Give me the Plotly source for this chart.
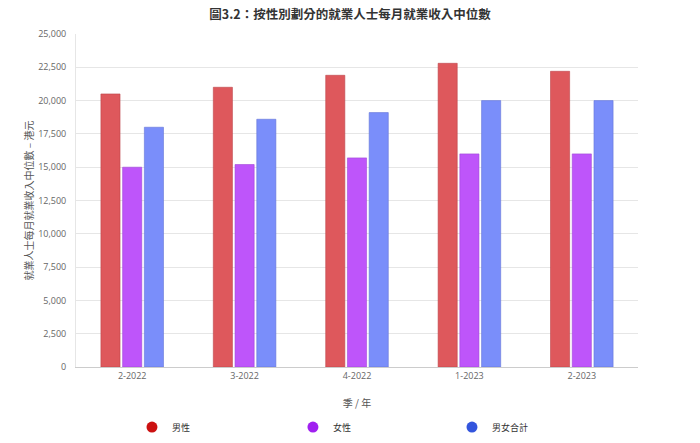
import plotly.graph_objects as go

categories = ["2-2022", "3-2022", "4-2022", "1-2023", "2-2023"]
male = [20500, 21000, 21900, 22800, 22200]
female = [15000, 15200, 15700, 16000, 16000]
total = [18000, 18600, 19100, 20000, 20000]
series_names = ["男性", "女性", "男女合計"]
bar_colors = ["rgba(222,88,92,1)", "rgba(190,85,250,1)", "rgba(122,142,250,1)"]
line_colors = ["rgba(190,70,75,1)", "rgba(160,70,215,1)", "rgba(100,118,215,1)"]
legend_colors = ["#cc1111", "#a020f0", "#3355dd"]
legend_ids = ["legend", "legend2", "legend3"]
legend_x = [0.0996, 0.386, 0.669]

FONT = "Open Sans, Noto Sans CJK TC, sans-serif"
CJK = "Noto Sans CJK TC, sans-serif"

fig = go.Figure()
for name, vals, c, lc in zip(series_names, [male, female, total], bar_colors, line_colors):
    fig.add_trace(go.Bar(x=categories, y=vals, name=name, marker=dict(color=c, line=dict(color=lc, width=0.6)),
                         showlegend=False))
for name, c, lid in zip(series_names, legend_colors, legend_ids):
    fig.add_trace(go.Scatter(x=[None], y=[None], mode="markers", name=name, legend=lid,
                             marker=dict(symbol="circle", size=11, color=c)))

legend_common = dict(orientation="h", yref="container", y=0.036, yanchor="middle", xanchor="left",
                     font=dict(family=CJK, size=9, color="#333333"), itemwidth=30)

fig.update_layout(
    width=700, height=443,
    margin=dict(l=76, r=62, t=34, b=76),
    paper_bgcolor="white", plot_bgcolor="white",
    font=dict(family=FONT, color="#666666", size=9),
    barmode="group", bargap=0.42, bargroupgap=0.12,
    title=dict(text="<b>圖3.2：按性別劃分的就業人士每月就業收入中位數</b>", x=0.5, xanchor="center",
               y=0.968, yanchor="middle", font=dict(family=CJK, size=12.5, color="#333333")),
    xaxis=dict(showgrid=False, showline=True, linecolor="#cccccc", linewidth=1, ticks="", automargin=False,
               tickfont=dict(size=9, color="#666666"),
               title=dict(text="季 / 年", font=dict(family=CJK, size=10, color="#555555"), standoff=19)),
    yaxis=dict(range=[0, 25000], tick0=0, dtick=2500, tickformat=",", showgrid=True, gridcolor="#e6e6e6",
               showline=True, linecolor="#e6e6e6", zeroline=False, ticks="", ticklabelstandoff=7, automargin=False,
               tickfont=dict(size=9, color="#666666"),
               title=dict(text="就業人士每月就業收入中位數 – 港元", font=dict(family=CJK, size=10, color="#555555"), standoff=2)),
    legend=dict(x=legend_x[0], **legend_common),
    legend2=dict(x=legend_x[1], **legend_common),
    legend3=dict(x=legend_x[2], **legend_common),
)
fig.write_html("out.html")
